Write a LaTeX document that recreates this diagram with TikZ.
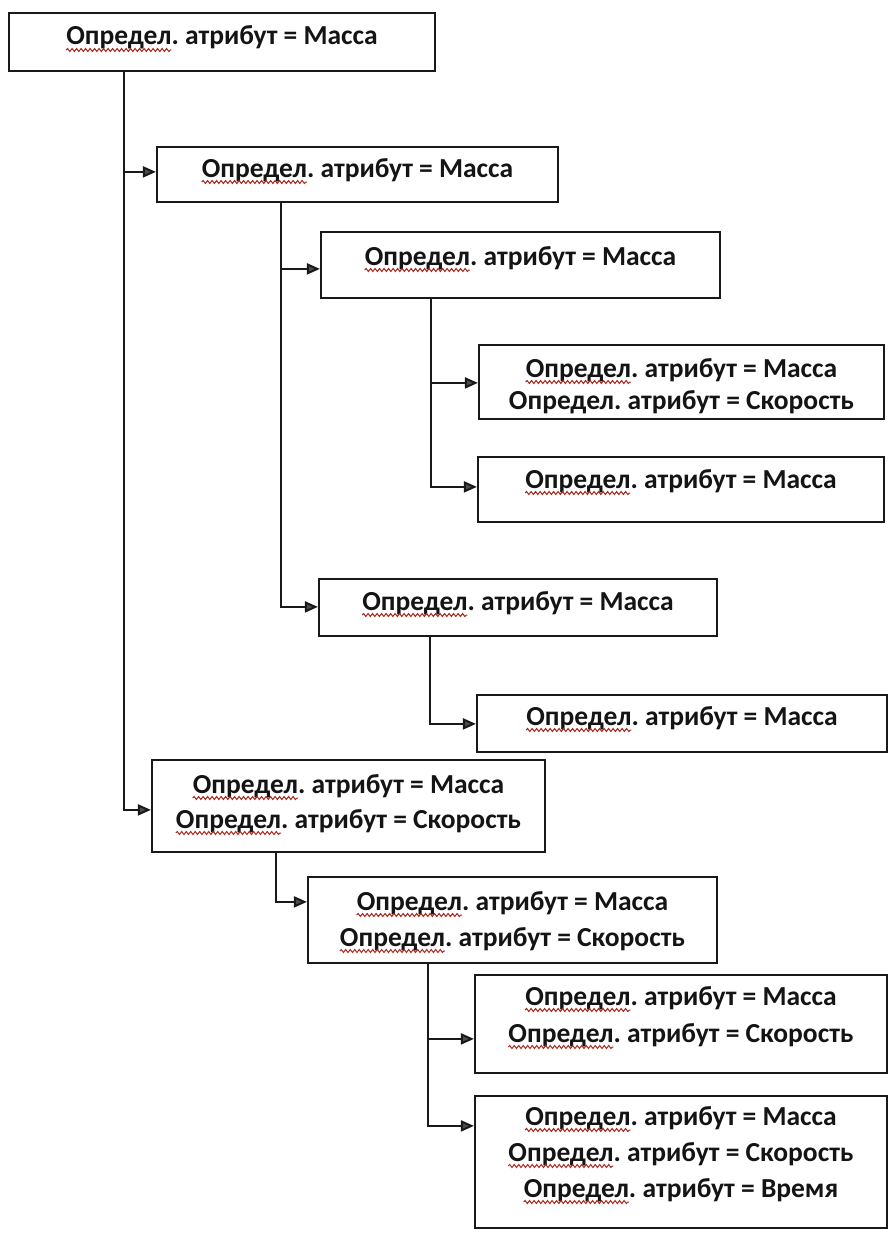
\documentclass[tikz,border=0pt]{standalone}
\usepackage{fontspec}
\usetikzlibrary{arrows.meta,decorations.pathmorphing}
\newfontfamily\cf{Carlito}
\definecolor{sq}{RGB}{170,40,30}
\definecolor{ln}{RGB}{25,25,25}
\newlength\odw
\newcommand\tfont{\cf\bfseries\fontsize{27.5}{33}\selectfont\frenchspacing}
\newcommand\bxnode[5]{\node[boxst, minimum width={(#4-#2)*1pt}, minimum height={(#5-#3)*1pt}] (#1) at ({(#2+#4)/2},{(#3+#5)/2}) {};}
\tikzset{
  boxst/.style={draw=ln, line width=2.2pt, rectangle, inner sep=0pt},
  txt/.style={anchor=base, inner sep=0pt, font=\tfont, text=black!92},
  arr/.style={draw=ln, line width=2pt, -{Triangle[length=13pt,width=11pt,fill=black!70]}},
  squig/.style={draw=sq, line width=1pt, decorate, decoration={snake, amplitude=1.5pt, segment length=4.5pt}}
}
\begin{document}
\settowidth\odw{\tfont Определ}
\begin{tikzpicture}[x=1pt,y=-1pt]
\useasboundingbox (0,0) rectangle (889,1236);
% boxes
\bxnode{b1}{9}{13}{435}{71}
\bxnode{b2}{157}{147}{558}{202}
\bxnode{b3}{321}{232}{720}{298}
\bxnode{b4}{479}{345}{884}{419}
\bxnode{b5}{478}{457}{884}{522}
\bxnode{b6}{319}{579}{717}{636}
\bxnode{b7}{477}{695}{887}{752}
\bxnode{b8}{152}{760}{545}{852}
\bxnode{b9}{308}{877}{717}{963}
\bxnode{b10}{475}{975}{887}{1073}
\bxnode{b11}{475}{1096}{887}{1228}
% texts
\node[txt] (t1) at (222,45) {Определ. атрибут = Масса};
\node[txt] (t2) at (357.5,177) {Определ. атрибут = Масса};
\node[txt] (t3) at (520.5,265) {Определ. атрибут = Масса};
\node[txt] (t4a) at (681.5,377) {Определ. атрибут = Масса};
\node[txt] (t4b) at (681.5,409) {Определ. атрибут = Скорость};
\node[txt] (t5) at (681,488) {Определ. атрибут = Масса};
\node[txt] (t6) at (518,610) {Определ. атрибут = Масса};
\node[txt] (t7) at (682,725) {Определ. атрибут = Масса};
\node[txt] (t8a) at (348.5,793) {Определ. атрибут = Масса};
\node[txt] (t8b) at (348.5,828) {Определ. атрибут = Скорость};
\node[txt] (t9a) at (512.5,910) {Определ. атрибут = Масса};
\node[txt] (t9b) at (512.5,946) {Определ. атрибут = Скорость};
\node[txt] (t10a) at (681,1005) {Определ. атрибут = Масса};
\node[txt] (t10b) at (681,1042) {Определ. атрибут = Скорость};
\node[txt] (t11a) at (681,1125) {Определ. атрибут = Масса};
\node[txt] (t11b) at (681,1161) {Определ. атрибут = Скорость};
\node[txt] (t11c) at (681,1197) {Определ. атрибут = Время};
% spell-check squiggles
\foreach \t in {t1,t2,t3,t4a,t5,t6,t7,t8a,t8b,t9a,t9b,t10a,t10b,t11a,t11b,t11c}
  \draw[squig] ([yshift=-5pt]\t.base west) -- ++(\odw,0);
% entry points
\coordinate (i2) at ([yshift=-26pt]b2.north west);
\coordinate (i3) at ([yshift=-38pt]b3.north west);
\coordinate (i4) at ([yshift=-39pt]b4.north west);
\coordinate (i5) at ([yshift=-31pt]b5.north west);
\coordinate (i6) at ([yshift=-29pt]b6.north west);
\coordinate (i7) at ([yshift=-30pt]b7.north west);
\coordinate (i8) at ([yshift=-51pt]b8.north west);
\coordinate (i9) at ([yshift=-26pt]b9.north west);
\coordinate (i10) at ([yshift=-65pt]b10.north west);
\coordinate (i11) at ([yshift=-31pt]b11.north west);
% trunks
\coordinate (k1) at ([xshift=116pt]b1.south west);
\coordinate (k2) at ([xshift=125pt]b2.south west);
\coordinate (k3) at ([xshift=111pt]b3.south west);
\coordinate (k6) at ([xshift=112pt]b6.south west);
\coordinate (k8) at ([xshift=125pt]b8.south west);
\coordinate (k9) at ([xshift=121pt]b9.south west);
% connectors
\draw[arr] (k1) |- (i8);
\draw[arr] (k1 |- i2) -- (i2);
\draw[arr] (k2) |- (i6);
\draw[arr] (k2 |- i3) -- (i3);
\draw[arr] (k3) |- (i5);
\draw[arr] (k3 |- i4) -- (i4);
\draw[arr] (k6) |- (i7);
\draw[arr] (k8) |- (i9);
\draw[arr] (k9) |- (i11);
\draw[arr] (k9 |- i10) -- (i10);
\end{tikzpicture}
\end{document}
